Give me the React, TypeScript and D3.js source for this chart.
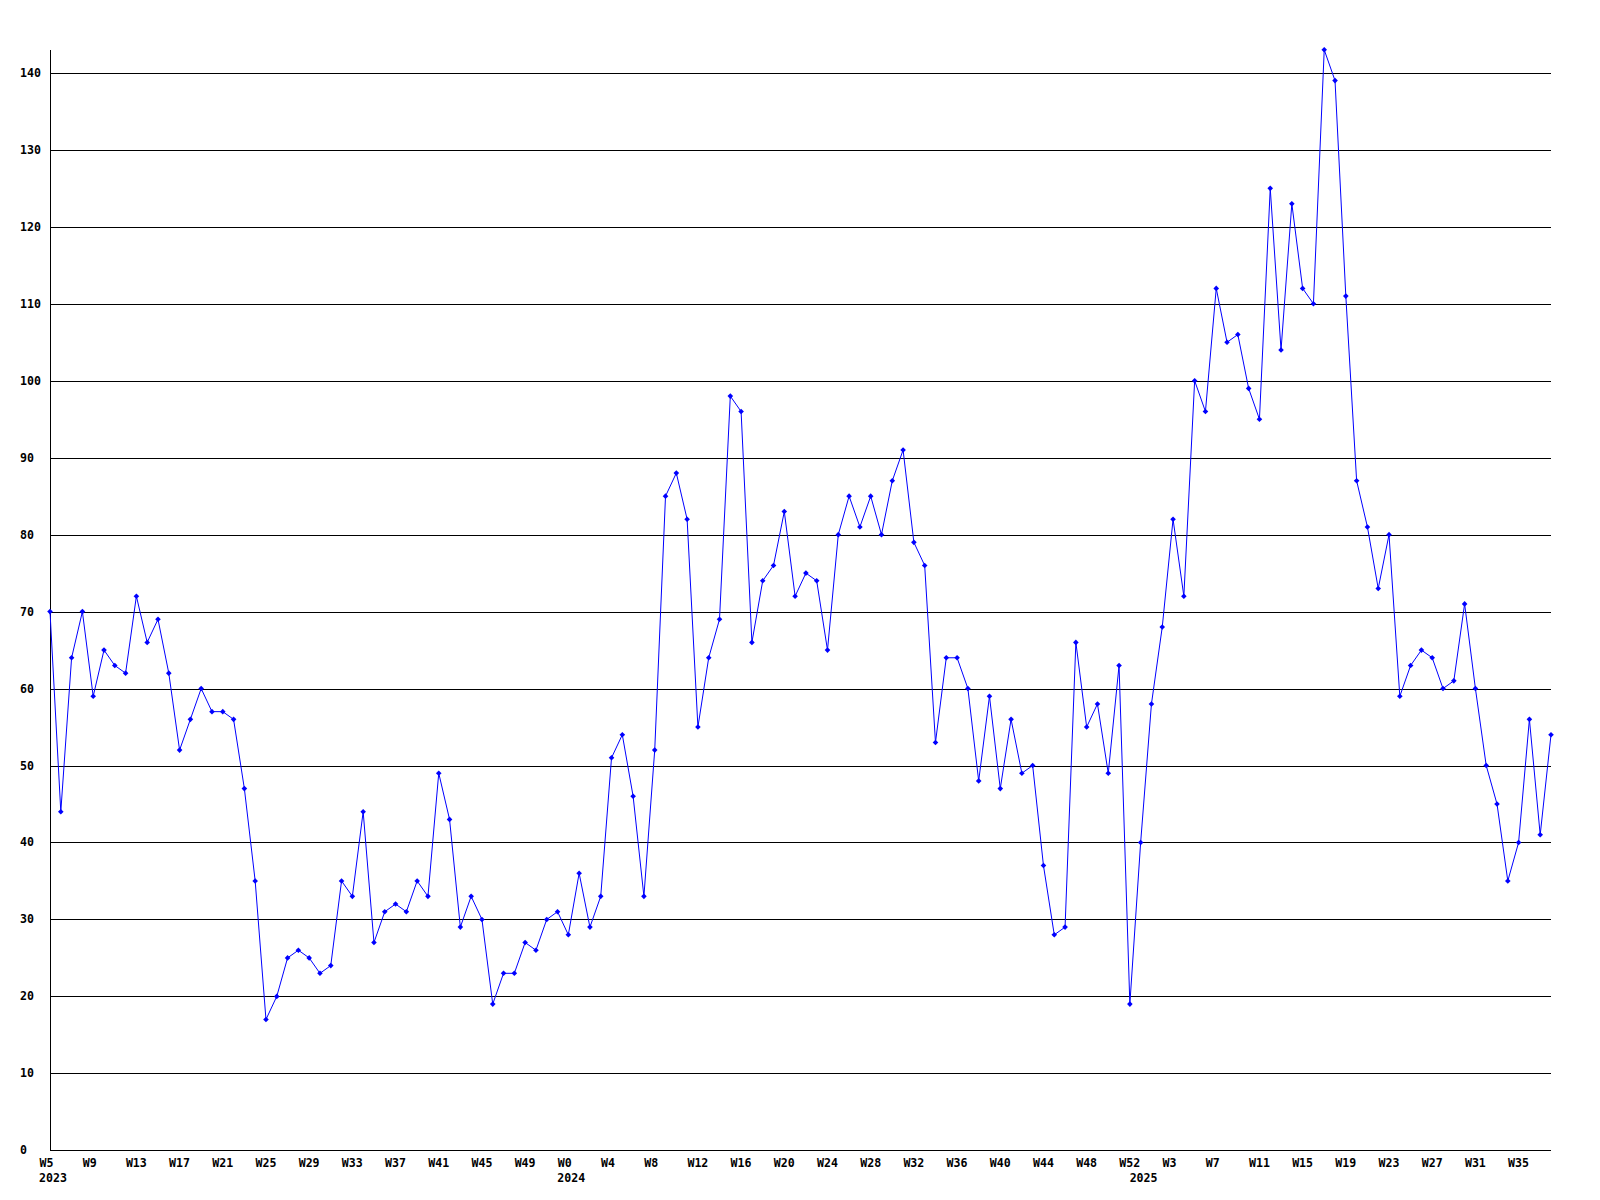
import React from "react";
import * as d3 from "d3";

// Week categories per year (first/last week shown in the chart)
const yearSpans = [
  { year: 2023, first: 5, last: 52 },
  { year: 2024, first: 0, last: 52 },
  { year: 2025, first: 0, last: 38 },
];

const values: number[] = [
  // 2023 W5..W52
  70, 44, 64, 70, 59, 65, 63, 62, 72, 66, 69, 62, 52, 56, 60, 57, 57, 56, 47, 35,
  17, 20, 25, 26, 25, 23, 24, 35, 33, 44, 27, 31, 32, 31, 35, 33, 49, 43, 29, 33,
  30, 19, 23, 23, 27, 26, 30, 31,
  // 2024 W0..W52
  28, 36, 29, 33, 51, 54, 46, 33, 52, 85, 88, 82, 55, 64, 69, 98, 96, 66, 74, 76,
  83, 72, 75, 74, 65, 80, 85, 81, 85, 80, 87, 91, 79, 76, 53, 64, 64, 60, 48, 59,
  47, 56, 49, 50, 37, 28, 29, 66, 55, 58, 49, 63, 19,
  // 2025 W0..W38
  40, 58, 68, 82, 72, 100, 96, 112, 105, 106, 99, 95, 125, 104, 123, 112, 110, 143, 139, 111,
  87, 81, 73, 80, 59, 63, 65, 64, 60, 61, 71, 60, 50, 45, 35, 40, 56, 41, 54,
];

const yTicks = [0, 10, 20, 30, 40, 50, 60, 70, 80, 90, 100, 110, 120, 130, 140];

const categories: { key: string; year: number; week: number }[] = yearSpans.flatMap((s) =>
  d3.range(s.first, s.last + 1).map((w) => ({ key: `${s.year}-W${w}`, year: s.year, week: w }))
);

const WIDTH = 1600;
const HEIGHT = 1200;
const FONT = "'DejaVu Sans Mono', 'Liberation Mono', monospace";

export default function App() {
  const x = d3
    .scalePoint<string>()
    .domain(categories.map((c) => c.key))
    .range([50, 1551]);
  const y = d3.scaleLinear().domain([0, 140]).range([1150.3, 72.9]);

  const data = categories.map((c, i) => ({ ...c, v: values[i] }));
  const line = d3
    .line<(typeof data)[number]>()
    .x((d) => x(d.key)!)
    .y((d) => y(d.v));

  const maxV = d3.max(values)!;
  const r = 2.8;
  const diamond = (cx: number, cy: number) =>
    `M${cx},${cy - r}L${cx + r},${cy}L${cx},${cy + r}L${cx - r},${cy}Z`;

  const weekTicks = data.filter((_, i) => i % 4 === 0);
  const yearTicks = data.filter((d, i) => i === 0 || data[i - 1].year !== d.year);

  return (
    <svg
      width={WIDTH}
      height={HEIGHT}
      style={{ position: "absolute", left: 0, top: 0, background: "#fff" }}
      fontFamily={FONT}
      fontWeight="bold"
      fontSize={11.6}
    >
      <rect x={0} y={0} width={WIDTH} height={HEIGHT} fill="#fff" />
      {/* gridlines */}
      {yTicks.map((t) => (
        <line
          key={t}
          x1={50}
          x2={1551}
          y1={Math.round(y(t)) + 0.5}
          y2={Math.round(y(t)) + 0.5}
          stroke="#000"
          strokeWidth={1}
          shapeRendering="crispEdges"
        />
      ))}
      {/* y axis */}
      <line
        x1={50.5}
        x2={50.5}
        y1={Math.round(y(maxV))}
        y2={Math.round(y(0)) + 1}
        stroke="#000"
        strokeWidth={1}
        shapeRendering="crispEdges"
      />
      {yTicks.map((t) => (
        <text key={t} x={20} y={y(t) + 4} fill="#000">
          {t}
        </text>
      ))}
      {/* x labels */}
      {weekTicks.map((d) => (
        <text key={d.key} x={x(d.key)! - 10.5} y={1166.5} fill="#000">
          {`W${d.week}`}
        </text>
      ))}
      {yearTicks.map((d) => (
        <text key={"y" + d.key} x={x(d.key)! - 11} y={1182} fill="#000">
          {d.year}
        </text>
      ))}
      {/* series */}
      <path d={line(data)!} fill="none" stroke="#0000ff" strokeWidth={1} />
      {data.map((d) => (
        <path key={"m" + d.key} d={diamond(x(d.key)!, y(d.v))} fill="#0000ff" />
      ))}
    </svg>
  );
}
